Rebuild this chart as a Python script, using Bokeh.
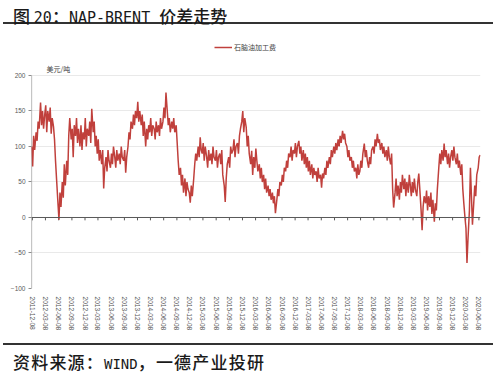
import pandas as pd
from bokeh.plotting import figure
from bokeh.layouts import column
from bokeh.models import (Range1d, FixedTicker, Span, Label, Legend, LegendItem,
                          ColumnDataSource, Div)
from bokeh.embed import file_html
from bokeh.resources import INLINE

title_parts = [("cjk", "图 "), ("lat", "20"), ("cjk", "："), ("lat", "NAP-BRENT "), ("cjk", "价差走势")]
source_parts = [("cjk", "资料来源："), ("lat", "WIND"), ("cjk", "，一德产业投研")]
series_name = "石脑油加工费"
unit_text = "美元/吨"

# NAP-BRENT spread (USD/t), four readings per month, starting 2011-12
first_month = "2011-12"
spread_rows = [
    [100, 72, 115, 95],      # 2011-12
    [120, 108, 135, 125],    # 2012-01
    [162, 130, 150, 125],
    [145, 158, 120, 150],
    [135, 155, 118, 140],
    [128, 110, 80, 55],
    [20, -3, 35, 15],
    [50, 28, 75, 45],
    [80, 60, 115, 140],
    [110, 125, 85, 130],
    [115, 140, 105, 125],
    [100, 130, 95, 120],
    [110, 140, 100, 125],    # 2012-12
    [115, 135, 105, 153],    # 2013-01
    [120, 135, 100, 115],
    [90, 110, 80, 95],
    [75, 95, 41, 70],
    [85, 65, 95, 80],
    [70, 90, 75, 100],
    [85, 70, 95, 80],
    [90, 75, 100, 85],
    [80, 95, 63, 85],
    [100, 120, 110, 135],
    [125, 145, 130, 150],
    [140, 163, 135, 150],    # 2013-12
    [130, 145, 115, 135],    # 2014-01
    [100, 125, 110, 130],
    [120, 140, 115, 130],
    [125, 110, 135, 120],
    [130, 115, 140, 125],
    [135, 155, 140, 176],
    [150, 130, 140, 120],
    [135, 125, 140, 120],
    [130, 105, 80, 60],
    [70, 45, 60, 35],
    [55, 30, 50, 40],
    [35, 21, 45, 30],        # 2014-12
    [55, 75, 90, 80],        # 2015-01
    [100, 85, 113, 95],
    [90, 105, 80, 100],
    [85, 70, 95, 80],
    [90, 75, 100, 85],
    [80, 95, 70, 85],
    [90, 75, 95, 60],
    [45, 22, 55, 75],
    [85, 70, 100, 90],
    [95, 110, 85, 100],
    [105, 90, 115, 125],
    [135, 150, 120, 140],    # 2015-12
    [127, 100, 115, 90],     # 2016-01
    [75, 94, 60, 85],
    [70, 97, 80, 65],
    [75, 55, 70, 50],
    [60, 40, 55, 35],
    [45, 30, 40, 25],
    [35, 20, 30, 6],
    [25, 40, 30, 50],
    [45, 60, 50, 70],
    [65, 80, 70, 90],
    [85, 100, 80, 95],
    [90, 105, 85, 100],      # 2016-12
    [108, 90, 100, 80],      # 2017-01
    [95, 75, 90, 70],
    [85, 65, 80, 60],
    [75, 55, 70, 60],
    [65, 50, 70, 55],
    [60, 42, 62, 55],
    [70, 60, 80, 70],
    [85, 75, 95, 85],
    [100, 90, 105, 95],
    [110, 100, 115, 105],
    [122, 110, 118, 105],
    [100, 85, 95, 80],       # 2017-12
    [85, 70, 80, 65],        # 2018-01
    [70, 55, 75, 60],
    [65, 80, 70, 90],
    [104, 85, 95, 80],
    [70, 85, 75, 95],
    [100, 90, 110, 100],
    [118, 105, 110, 95],
    [105, 90, 100, 85],
    [95, 80, 100, 85],
    [75, 90, 40, 14],
    [35, 55, 30, 45],
    [25, 50, 35, 60],        # 2018-12
    [40, 55, 30, 50],        # 2019-01
    [35, 60, 45, 30],
    [50, 35, 55, 40],
    [30, 50, 62, 40],
    [10, -18, 15, 30],
    [20, 38, 10, 30],
    [15, 35, 5, 25],
    [-6, 20, 10, 40],
    [70, 90, 75, 95],
    [80, 104, 85, 95],
    [75, 90, 70, 85],
    [95, 80, 100, 85],       # 2019-12
    [75, 90, 70, 80],        # 2020-01
    [60, 75, 40, 20],
    [0, -15, -64, -30],
    [10, 70, 30, -10],
    [20, 45, 30, 60],
    [70, 85, 88],            # 2020-06
]

y_ticks = [-100, -50, 0, 50, 100, 150, 200]
x_tick_labels = [
    "2011-12-08", "2012-03-08", "2012-06-08", "2012-09-08", "2012-12-08",
    "2013-03-08", "2013-06-08", "2013-09-08", "2013-12-08", "2014-03-08",
    "2014-06-08", "2014-09-08", "2014-12-08", "2015-03-08", "2015-06-08",
    "2015-09-08", "2015-12-08", "2016-03-08", "2016-06-08", "2016-09-08",
    "2016-12-08", "2017-03-08", "2017-06-08", "2017-09-08", "2017-12-08",
    "2018-03-08", "2018-06-08", "2018-09-08", "2018-12-08", "2019-03-08",
    "2019-06-08", "2019-09-08", "2019-12-08", "2020-03-08", "2020-06-08",
]
x_start, x_end = "2011-12-02", "2020-06-19"
y_min, y_max = -100, 200
y_top = 260.56   # frame extends above the 200 line to hold legend / unit text

# ---- build data table ----
dates, vals = [], []
m0 = pd.Period(first_month, "M")
for i, row in enumerate(spread_rows):
    base = (m0 + i).start_time
    for j, v in enumerate(row):
        dates.append(base + pd.Timedelta(days=2 + 7 * j))
        vals.append(v)
src = ColumnDataSource(dict(date=dates, spread=vals))

tick_dt = pd.to_datetime(x_tick_labels)
tick_ms = [float(t.value // 10**6) for t in tick_dt]

RED = "#c0403c"
FONT = "Noto Sans CJK SC"
AX = "#8c8c8c"

p = figure(width=500, height=306, x_axis_type="datetime",
           x_range=Range1d(pd.Timestamp(x_start), pd.Timestamp(x_end)),
           y_range=Range1d(y_min, y_top),
           output_backend="svg", toolbar_location=None,
           min_border_left=31, min_border_right=20,
           min_border_top=0, min_border_bottom=50, margin=0)
p.outline_line_color = None
p.background_fill_color = "white"
p.border_fill_color = "white"

# y axis (line drawn only between -100 and 200)
p.yaxis.ticker = FixedTicker(ticks=y_ticks)
p.yaxis.major_label_text_font_size = "6.5px"
p.yaxis.major_label_text_font = "Liberation Sans"
p.yaxis.major_label_text_color = "#595959"
p.yaxis.axis_line_color = None
p.yaxis.major_tick_line_color = AX
p.yaxis.major_tick_out = 3
p.yaxis.major_tick_in = 0
p.yaxis.minor_tick_line_color = None
p.yaxis.major_label_standoff = 3
p.segment(x0=[pd.Timestamp(x_start)], y0=[y_min], x1=[pd.Timestamp(x_start)], y1=[y_max],
          line_color=AX, line_width=1.2)

# x axis (labels at bottom)
p.xaxis.ticker = FixedTicker(ticks=tick_ms)
p.xaxis.major_label_overrides = {ms: lab for ms, lab in zip(tick_ms, x_tick_labels)}
p.xaxis.major_label_orientation = "vertical"
p.xaxis.major_label_text_font_size = "6.6px"
p.xaxis.major_label_text_font = "Liberation Sans"
p.xaxis.major_label_text_color = "#595959"
p.xaxis.axis_line_color = None
p.xaxis.major_tick_line_color = None
p.xaxis.minor_tick_line_color = None
p.xaxis.major_label_standoff = 2

p.xgrid.visible = False
p.ygrid.ticker = FixedTicker(ticks=[t for t in y_ticks if t != 0])
p.ygrid.grid_line_color = "#e9e9e9"
p.ygrid.grid_line_width = 1

# zero line with tick marks
p.add_layout(Span(location=0, dimension="width", line_color="#595959", line_width=1))
p.segment(x0=tick_dt, y0=[0] * len(tick_dt), x1=tick_dt, y1=[-4] * len(tick_dt),
          line_color="#595959", line_width=1)

r = p.line("date", "spread", source=src, line_color=RED, line_width=1.5)

legend = Legend(items=[LegendItem(label=series_name, renderers=[r])],
                location=(183, 236), orientation="horizontal",
                label_text_font_size="7px", label_text_font=FONT,
                label_text_color="#404040", glyph_width=18, glyph_height=8,
                label_height=8, label_standoff=2, padding=0, margin=0,
                border_line_color=None, background_fill_alpha=0)
p.add_layout(legend)

p.add_layout(Label(x=15, y=219.5, x_units="screen", y_units="screen", text=unit_text,
                   text_font=FONT, text_font_size="7px", text_color="#404040",
                   text_baseline="middle"))


def rich(parts, cjk_px, lat_px, cjk_spacing=0.0):
    out = []
    for kind, s in parts:
        if kind == "cjk":
            out.append(f'<span style="font-family:\'{FONT}\';font-size:{cjk_px}px;'
                       f'letter-spacing:{cjk_spacing}px;">{s}</span>')
        else:
            out.append(f'<span style="font-family:\'DejaVu Sans Mono\',\'{FONT}\';'
                       f'font-size:{lat_px}px;">{s}</span>')
    return "".join(out)


title_div = Div(width=500, height=32, margin=0, text=(
    '<div style="margin:0;padding:7px 0 0 13px;height:22px;line-height:17px;font-weight:500;'
    f'color:#1a1a1a;white-space:nowrap;">{rich(title_parts, 17, 15)}</div>'
    '<div style="margin:0 0 0 3px;width:490px;height:2px;background:#333;"></div>'))

source_div = Div(width=500, height=35, margin=0, text=(
    '<div style="margin:0;height:5px;"></div>'
    '<div style="margin:0 0 0 3px;width:490px;height:2px;background:#333;"></div>'
    '<div style="margin:0;padding:8px 0 0 13px;line-height:17px;font-weight:500;'
    f'color:#1a1a1a;white-space:nowrap;">{rich(source_parts, 17, 14, 1.2)}</div>'))

layout = column(title_div, p, source_div, spacing=0, margin=0)

open("out.html", "w").write(file_html(layout, INLINE))
